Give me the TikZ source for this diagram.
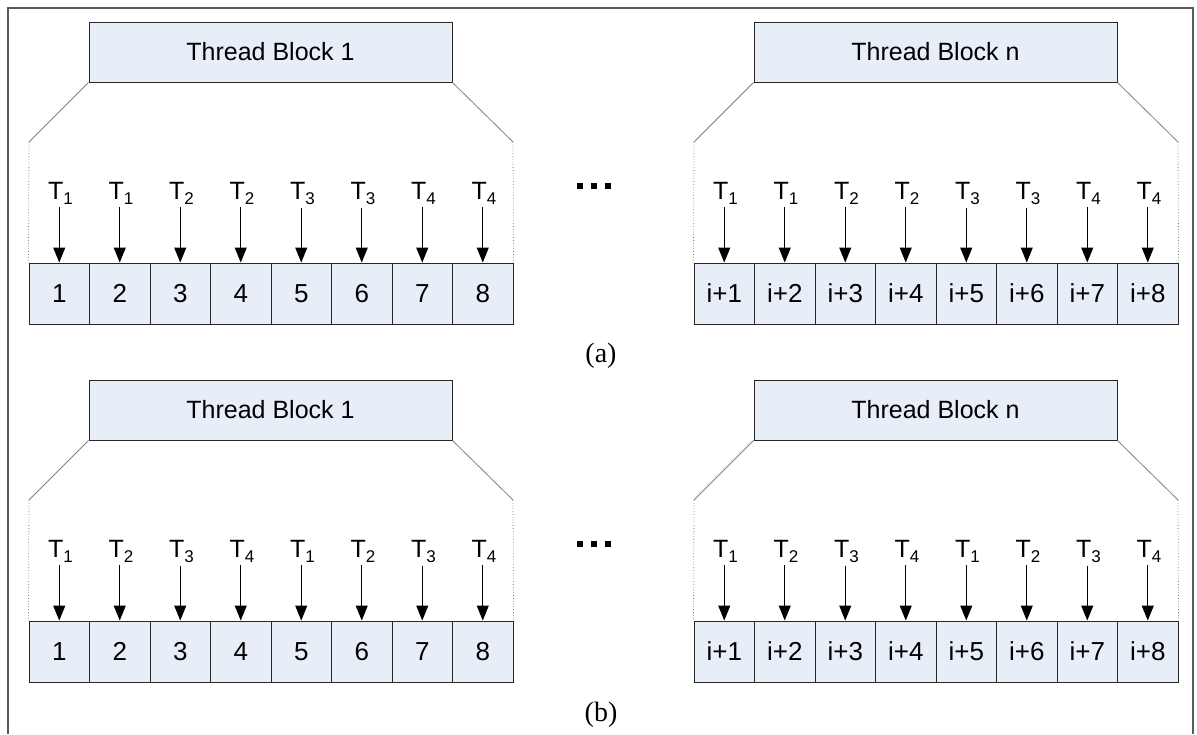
\documentclass[tikz,border=0pt]{standalone}
\usepackage{fontspec}
\setmainfont{Liberation Sans}
\newfontfamily\capfont{Liberation Serif}
\usetikzlibrary{arrows.meta,positioning}
\definecolor{blockfill}{RGB}{232,238,247}
\definecolor{framegray}{RGB}{90,90,90}
\tikzset{
  blockbox/.style={draw=black!85, fill=blockfill, line width=0.5pt, minimum width=181.5pt, minimum height=30pt, inner sep=0pt, font=\fontsize{12.5}{14}\selectfont},
  cellbox/.style={draw=black!85, fill=blockfill, line width=0.5pt, minimum width=30.25pt, minimum height=30.5pt, inner sep=0pt, font=\fontsize{13}{14}\selectfont},
  tlabel/.style={inner sep=1pt, font=\fontsize{12.5}{14}\selectfont},
  fetch/.style={-{Triangle[width=6pt,length=7.5pt]}, line width=0.5pt},
  hull/.style={gray, line width=0.4pt},
}
\newcommand{\thr}[1]{T\raisebox{-0.45ex}{\fontsize{8.5}{9}\selectfont #1}}

\begin{document}
\begin{tikzpicture}[x=0.5pt,y=-0.5pt]
  \useasboundingbox (0,0) rectangle (1197,734);
  \draw[framegray, line width=0.75pt] (8,734) -- (8,8) -- (1193,8) -- (1193,734);

  \foreach \row/\dy/\tids in {a/0/{1,1,2,2,3,3,4,4}, b/358/{1,2,3,4,1,2,3,4}} {
    \foreach \side/\dx/\blk/\pre in {l/0/1/{}, r/665/n/i+} {
      \begin{scope}[shift={(\dx,\dy)}]
        \node[blockbox] (blk\row\side) at (270.5,52) {Thread Block \blk};
        \foreach \t [count=\k] in \tids {
          \node[cellbox] (c\row\side\k) at ({60.5*\k-1.25},293.5) {\pre\k};
          \node[tlabel, anchor=base] (t\row\side\k) at ({60.5*\k},199) {\thr{\t}};
          \draw[fetch] (t\row\side\k.south -| c\row\side\k) -- (c\row\side\k);
        }
        \draw[hull] (blk\row\side.south west) -- (29,142) coordinate (hl\row\side);
        \draw[hull] (blk\row\side.south east) -- (513,142) coordinate (hr\row\side);
        \draw[hull, densely dotted] (hl\row\side) -- (c\row\side1.north west);
        \draw[hull, densely dotted] (hr\row\side) -- (c\row\side8.north east);
      \end{scope}
    }
    \foreach \xx in {580,594,608}
      \fill ({\xx-3},{183+\dy}) rectangle ++(6,6);
  }

  \node[font=\capfont\fontsize{14}{16}\selectfont] (capa) at (601,356) {(a)};
  \node[font=\capfont\fontsize{14}{16}\selectfont] (capb) at (601,715) {(b)};
\end{tikzpicture}
\end{document}
